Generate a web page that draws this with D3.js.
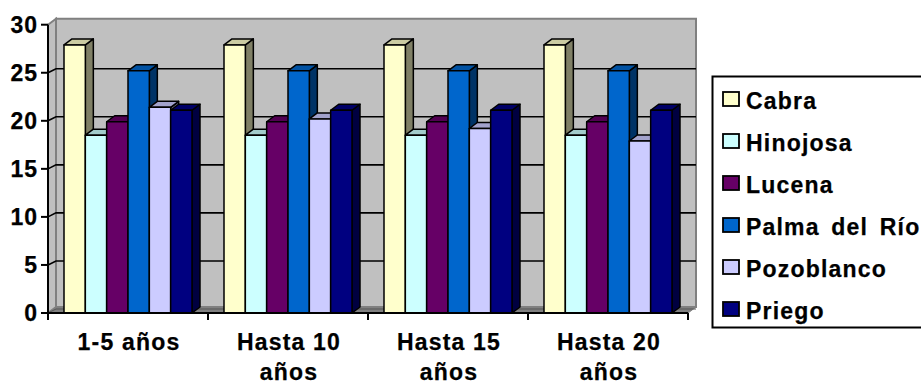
<!DOCTYPE html>
<html><head><meta charset="utf-8">
<script src="https://cdn.jsdelivr.net/npm/d3@7"></script>
<style>html,body{margin:0;padding:0;background:#fff;overflow:hidden}
text{font-family:"Liberation Sans",Arial,sans-serif;font-weight:bold;fill:#000;stroke:#000;stroke-width:.25}</style>
</head><body><svg id="c" width="921" height="385"></svg>
<script>
const categories=[["1-5 años"],["Hasta 10","años"],["Hasta 15","años"],["Hasta 20","años"]];
const seriesNames=["Cabra","Hinojosa","Lucena","Palma del Río","Pozoblanco","Priego"];
const cabra=[27.9,27.9,27.9,27.9];
const hinojosa=[18.5,18.5,18.5,18.5];
const lucena=[19.9,19.9,19.9,19.9];
const palma=[25.2,25.2,25.2,25.2];
const pozoblanco=[21.4,20.2,19.2,17.9];
const priego=[21.1,21.1,21.1,21.1];
const seriesValues=[cabra,hinojosa,lucena,palma,pozoblanco,priego];
const colors=["#FFFFCC","#CCFFFF","#660066","#0066CC","#CCCCFF","#000080"];
const yTicks=[0,5,10,15,20,25,30];

const dx=8,dy=6,gridDy=4;
const svg=d3.select("#c");
const x0=d3.scaleBand().domain(d3.range(categories.length)).range([48,688]);
const inner=d3.scaleBand().domain(d3.range(seriesNames.length)).range([16,144]);
const y=d3.scaleLinear().domain([0,30]).range([313,24.7]);
const xL=48,xR=688,yB=y(0),yT=y(30);

const g=svg.append("g");
g.append("polygon").attr("points",[[xL+dx,yT-dy],[xR+dx,yT-dy],[xR+dx,yB-dy],[xL+dx,yB-dy]].join(" "))
 .attr("fill","#C0C0C0").attr("stroke","#808080").attr("stroke-width",2);
g.append("polygon").attr("points",[[xL,yT],[xL+dx,yT-dy],[xL+dx,yB-dy],[xL,yB]].join(" "))
 .attr("fill","#C0C0C0").attr("stroke","#808080").attr("stroke-width",2);
g.append("polygon").attr("points",[[xL,yB],[xL+dx,yB-dy],[xR+dx,yB-dy],[xR,yB]].join(" "))
 .attr("fill","#808080").attr("stroke","#808080");
yTicks.filter(t=>t<30).forEach(t=>{
  g.append("polyline").attr("points",[[xL,y(t)],[xL+dx,y(t)-gridDy],[xR+dx,y(t)-gridDy]].join(" "))
   .attr("fill","none").attr("stroke",t===0?"#555":"#000").attr("stroke-width",t===0?1:1.6);
});
categories.forEach((c,ci)=>{
  seriesNames.forEach((s,si)=>{
    const v=seriesValues[si][ci];
    const xa=x0(ci)+inner(si), w=inner.bandwidth(), yt=y(v), yb=y(0);
    const col=d3.rgb(colors[si]);
    const bg=svg.append("g").attr("stroke","#000").attr("stroke-width",1.5).attr("stroke-linejoin","round");
    bg.append("polygon").attr("points",[[xa+w,yt],[xa+w+dx,yt-dy],[xa+w+dx,yb-dy],[xa+w,yb]].join(" "))
      .attr("fill",d3.rgb(col.r*0.5,col.g*0.5,col.b*0.5).formatHex());
    bg.append("polygon").attr("points",[[xa,yt],[xa+dx,yt-dy],[xa+w+dx,yt-dy],[xa+w,yt]].join(" "))
      .attr("fill",d3.rgb(col.r*0.8,col.g*0.8,col.b*0.8).formatHex());
    bg.append("rect").attr("x",xa).attr("y",yt).attr("width",w).attr("height",yb-yt).attr("fill",colors[si]);
  });
});
const ax=svg.append("g").attr("stroke","#000").attr("stroke-width",2);
ax.append("line").attr("x1",xL).attr("x2",xL).attr("y1",yT).attr("y2",yB);
ax.append("line").attr("x1",xL).attr("x2",xR).attr("y1",yB).attr("y2",yB);
yTicks.forEach(t=>{
  ax.append("line").attr("x1",xL-7).attr("x2",xL).attr("y1",y(t)).attr("y2",y(t));
  svg.append("text").attr("x",38).attr("y",y(t)+8).attr("text-anchor","end")
     .attr("font-size",23).attr("letter-spacing",1).text(t);
});
d3.range(categories.length+1).forEach(i=>{
  const xp=i<categories.length?x0(i):xR;
  ax.append("line").attr("x1",xp).attr("x2",xp).attr("y1",yB).attr("y2",yB+7);
});
categories.forEach((c,i)=>{
  c.forEach((ln,j)=>{
    svg.append("text").attr("x",x0(i)+x0.bandwidth()/2+1).attr("y",j?380:350).attr("text-anchor","middle")
      .attr("font-size",23).attr("letter-spacing",1.2).text(ln);
  });
});
svg.append("rect").attr("x",712.5).attr("y",76.5).attr("width",240).attr("height",251)
   .attr("fill","#fff").attr("stroke","#000").attr("stroke-width",2);
const ly=d3.scalePoint().domain(d3.range(seriesNames.length)).range([99,309]);
seriesNames.forEach((s,i)=>{
  svg.append("rect").attr("x",723).attr("y",ly(i)-7).attr("width",16).attr("height",14)
     .attr("fill",colors[i]).attr("stroke","#000").attr("stroke-width",1.8);
  svg.append("text").attr("x",746).attr("y",ly(i)+9.5).attr("font-size",23).attr("letter-spacing",1.2).attr("word-spacing",4).text(s);
});
</script></body></html>
